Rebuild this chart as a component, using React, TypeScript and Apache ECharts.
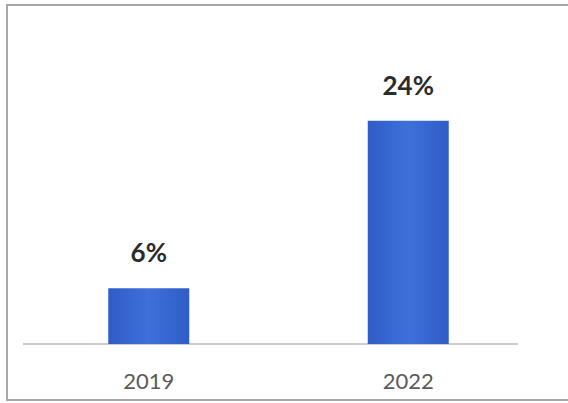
import React, { useEffect, useRef } from "react";
import * as echarts from "echarts";

const categories = ["2019", "2022"];
const values = [6, 24];
const valueLabels = ["6%", "24%"];

export default function App() {
  const ref = useRef<HTMLDivElement>(null);
  useEffect(() => {
    if (!ref.current) return;
    const chart = echarts.init(ref.current, null, { renderer: "svg" });
    const barColor = new echarts.graphic.LinearGradient(0, 0, 1, 0, [
      { offset: 0, color: "#2f5cc6" },
      { offset: 0.5, color: "#3f70d8" },
      { offset: 1, color: "#2f5cc6" },
    ]);
    chart.setOption({
      animation: false,
      backgroundColor: "#ffffff",
      grid: { left: 19, right: 30, top: 65, bottom: 59 },
      xAxis: {
        type: "category",
        data: categories,
        axisLine: { show: false },
        axisTick: { show: false },
        axisLabel: {
          color: "#5a5a5a",
          fontFamily: "Lato",
          fontSize: 22,
          margin: 25,
        },
      },
      yAxis: {
        type: "value",
        min: 0,
        max: 30,
        show: false,
        splitLine: { show: false },
      },
      graphic: [
        {
          type: "rect",
          shape: { x: 7, y: 5, width: 580, height: 395 },
          style: { fill: "none", stroke: "#a8a8a8", lineWidth: 2 },
          silent: true,
        },
        {
          type: "line",
          shape: { x1: 23, y1: 344, x2: 518, y2: 344 },
          style: { stroke: "#bcbcbc", lineWidth: 1.5 },
          silent: true,
        },
      ],
      series: [
        {
          type: "bar",
          data: values,
          barWidth: 81,
          itemStyle: { color: barColor },
          label: {
            show: true,
            position: "top",
            distance: 23,
            color: "#2b2b2b",
            fontFamily: "Lato",
            fontWeight: "bold",
            fontSize: 26,
            formatter: (p: any) => valueLabels[p.dataIndex],
          },
        },
      ],
    });
    return () => chart.dispose();
  }, []);
  return (
    <div
      ref={ref}
      style={{ position: "absolute", left: 0, top: 0, width: 568, height: 403 }}
    />
  );
}
